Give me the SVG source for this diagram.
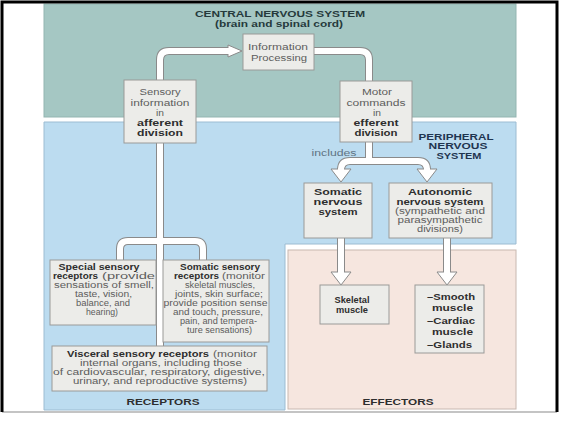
<svg xmlns="http://www.w3.org/2000/svg" width="564" height="422" viewBox="0 0 564 422">
<style>
text{font-family:"Liberation Sans",Arial,sans-serif;}
.n{font-size:8.5px;fill:#5c5c5c;text-anchor:middle;}
.b{font-size:8.5px;fill:#2e2e2e;font-weight:bold;text-anchor:middle;}
.rs{font-size:8.5px;fill:#5c5c5c;text-anchor:middle;}
.rb{font-size:8.5px;fill:#2e2e2e;font-weight:bold;text-anchor:middle;}
.st{text-anchor:start;}
.t{font-size:9px;font-weight:bold;fill:#263a3c;text-anchor:middle;}
.p{font-size:9px;font-weight:bold;fill:#1f3550;text-anchor:middle;}
.box{fill:#ecece9;stroke:#9a9a98;stroke-width:1;}
.po{fill:none;stroke:#8a8a8a;stroke-width:8;}
.pi{fill:none;stroke:#ffffff;stroke-width:6;}
.ah{fill:#ffffff;stroke:#8a8a8a;stroke-width:1;stroke-linejoin:miter;}
</style>
<rect x="0" y="0" width="564" height="422" fill="#ffffff"/>
<g id="panels">
<rect x="44" y="4" width="472" height="113" fill="#a5c7c3" stroke="#93b5b1" stroke-width="1"/>
<path d="M44,122 H516 V244 H285 V410 H44 Z" fill="#bcdcf0" stroke="#9cbcd2" stroke-width="1"/>
<rect x="288" y="250" width="228" height="159" fill="#f6e6df" stroke="#c8b8b0" stroke-width="1"/>
</g>
<g id="frame">
<line x1="2" y1="412" x2="557" y2="412" stroke="#b0b0b0" stroke-width="1.5"/>
<path d="M2,412 V2 H557 V412" fill="none" stroke="#000" stroke-width="3"/>
</g>
<g id="titles">
<text class="t" x="280" y="17" textLength="170" lengthAdjust="spacingAndGlyphs">CENTRAL NERVOUS SYSTEM</text>
<text class="t" x="279" y="27" textLength="128" lengthAdjust="spacingAndGlyphs">(brain and spinal cord)</text>
<text class="p" x="456" y="139.5" textLength="75" lengthAdjust="spacingAndGlyphs">PERIPHERAL</text>
<text class="p" x="458" y="149" textLength="59" lengthAdjust="spacingAndGlyphs">NERVOUS</text>
<text class="p" x="459" y="158.5" textLength="45" lengthAdjust="spacingAndGlyphs">SYSTEM</text>
<text class="b" x="398" y="405" textLength="71" lengthAdjust="spacingAndGlyphs">EFFECTORS</text>
<text class="b" x="163" y="405" textLength="73" lengthAdjust="spacingAndGlyphs">RECEPTORS</text>
</g>
<g id="connectors">
<path class="po" d="M160,80 V60 Q160,51 169,51 H229"/>
<path class="po" d="M314,51 H360 Q369,51 369,60 V81"/>
<path class="po" d="M369,142 V161"/>
<path class="po" d="M341,171 V170 Q341,161 350,161 H418 Q427,161 427,170 V171"/>
<path class="po" d="M341,238 V274"/>
<path class="po" d="M447,238 V274"/>
<path class="po" d="M160,143 V346"/>
<path class="po" d="M120,260 V249 Q120,241 128,241 H195 Q203,241 203,249 V260"/>
<path class="pi" d="M160,80 V60 Q160,51 169,51 H229"/>
<path class="pi" d="M314,51 H360 Q369,51 369,60 V81"/>
<path class="pi" d="M369,142 V161"/>
<path class="pi" d="M341,171 V170 Q341,161 350,161 H418 Q427,161 427,170 V171"/>
<path class="pi" d="M341,238 V274"/>
<path class="pi" d="M447,238 V274"/>
<path class="pi" d="M160,143 V346"/>
<path class="pi" d="M120,260 V249 Q120,241 128,241 H195 Q203,241 203,249 V260"/>
<polygon class="ah" points="228,45 242,51 228,57"/>
<rect x="227" y="48" width="2" height="6" fill="#fff"/>
<polygon class="ah" points="331,169 351,169 341,182"/>
<rect x="338" y="168" width="6" height="2" fill="#fff"/>
<polygon class="ah" points="417,169 437,169 427,182"/>
<rect x="424" y="168" width="6" height="2" fill="#fff"/>
<polygon class="ah" points="331,272 351,272 341,285"/>
<rect x="338" y="271" width="6" height="2" fill="#fff"/>
<polygon class="ah" points="437,272 457,272 447,285"/>
<rect x="444" y="271" width="6" height="2" fill="#fff"/>
<text class="n" x="334" y="156" textLength="45" lengthAdjust="spacingAndGlyphs" style="fill:#5f7383">includes</text>
</g>
<g id="info">
<rect class="box" x="243" y="34" width="71" height="36"/>
<text class="n" x="278" y="50" textLength="60" lengthAdjust="spacingAndGlyphs">Information</text>
<text class="n" x="279" y="61" textLength="56" lengthAdjust="spacingAndGlyphs">Processing</text>
</g>
<g id="sensory">
<rect class="box" x="124" y="80" width="72" height="63"/>
<text class="n" x="160" y="95" textLength="41" lengthAdjust="spacingAndGlyphs">Sensory</text>
<text class="n" x="160" y="105.5" textLength="59" lengthAdjust="spacingAndGlyphs">information</text>
<text class="n" x="160" y="116" textLength="8" lengthAdjust="spacingAndGlyphs">in</text>
<text class="b" x="160" y="125.5" textLength="46" lengthAdjust="spacingAndGlyphs">afferent</text>
<text class="b" x="160" y="135.5" textLength="46" lengthAdjust="spacingAndGlyphs">division</text>
</g>
<g id="motor">
<rect class="box" x="340" y="81" width="72" height="61"/>
<text class="n" x="377" y="95" textLength="30" lengthAdjust="spacingAndGlyphs">Motor</text>
<text class="n" x="376" y="105.5" textLength="59" lengthAdjust="spacingAndGlyphs">commands</text>
<text class="n" x="377" y="116" textLength="8" lengthAdjust="spacingAndGlyphs">in</text>
<text class="b" x="376" y="125.5" textLength="45" lengthAdjust="spacingAndGlyphs">efferent</text>
<text class="b" x="376" y="135.5" textLength="43" lengthAdjust="spacingAndGlyphs">division</text>
</g>
<g id="somatic-ns">
<rect class="box" x="304" y="183" width="68" height="55"/>
<text class="b" x="338" y="195" textLength="48" lengthAdjust="spacingAndGlyphs">Somatic</text>
<text class="b" x="338" y="205" textLength="49" lengthAdjust="spacingAndGlyphs">nervous</text>
<text class="b" x="338" y="214.5" textLength="39" lengthAdjust="spacingAndGlyphs">system</text>
</g>
<g id="autonomic-ns">
<rect class="box" x="389" y="183" width="103" height="55"/>
<text class="b" x="440" y="195" textLength="64" lengthAdjust="spacingAndGlyphs">Autonomic</text>
<text class="b" x="440" y="205" textLength="87" lengthAdjust="spacingAndGlyphs">nervous system</text>
<text class="n" x="440" y="214" textLength="90" lengthAdjust="spacingAndGlyphs">(sympathetic and</text>
<text class="n" x="440" y="223" textLength="85" lengthAdjust="spacingAndGlyphs">parasympathetic</text>
<text class="n" x="440" y="232" textLength="46" lengthAdjust="spacingAndGlyphs">divisions)</text>
</g>
<g id="skeletal">
<rect class="box" x="320" y="285" width="69" height="39"/>
<text class="b" x="352" y="303" textLength="35" lengthAdjust="spacingAndGlyphs">Skeletal</text>
<text class="b" x="352" y="313" textLength="32" lengthAdjust="spacingAndGlyphs">muscle</text>
</g>
<g id="visceral-effectors">
<rect class="box" x="415" y="285" width="69" height="68"/>
<text class="b st" x="427" y="300" textLength="48" lengthAdjust="spacingAndGlyphs">–Smooth</text>
<text class="b st" x="432" y="310.5" textLength="41" lengthAdjust="spacingAndGlyphs">muscle</text>
<text class="b st" x="427" y="324" textLength="48" lengthAdjust="spacingAndGlyphs">–Cardiac</text>
<text class="b st" x="432" y="334.5" textLength="41" lengthAdjust="spacingAndGlyphs">muscle</text>
<text class="b st" x="427" y="347.5" textLength="45" lengthAdjust="spacingAndGlyphs">–Glands</text>
</g>
<g id="special-receptors">
<rect class="box" x="50" y="260" width="106" height="65"/>
<text class="rb" x="99" y="270" textLength="81" lengthAdjust="spacingAndGlyphs">Special sensory</text>
<text class="rb st" x="53" y="279" textLength="45" lengthAdjust="spacingAndGlyphs">receptors</text>
<text class="rs st" x="102" y="279" textLength="53" lengthAdjust="spacingAndGlyphs">(provide</text>
<text class="rs" x="104" y="288" textLength="100" lengthAdjust="spacingAndGlyphs">sensations of smell,</text>
<text class="rs" x="103.5" y="296.5" textLength="57" lengthAdjust="spacingAndGlyphs">taste, vision,</text>
<text class="rs" x="103" y="305.5" textLength="54" lengthAdjust="spacingAndGlyphs">balance, and</text>
<text class="rs" x="102" y="314.5" textLength="32" lengthAdjust="spacingAndGlyphs">hearing)</text>
</g>
<g id="somatic-receptors">
<rect class="box" x="163" y="260" width="106" height="82"/>
<text class="rb" x="220" y="269.5" textLength="80" lengthAdjust="spacingAndGlyphs">Somatic sensory</text>
<text class="rb st" x="174" y="278.5" textLength="45" lengthAdjust="spacingAndGlyphs">receptors</text>
<text class="rs st" x="222" y="278.5" textLength="43" lengthAdjust="spacingAndGlyphs">(monitor</text>
<text class="rs" x="220" y="287.5" textLength="70" lengthAdjust="spacingAndGlyphs">skeletal muscles,</text>
<text class="rs" x="219" y="296.5" textLength="88" lengthAdjust="spacingAndGlyphs">joints, skin surface;</text>
<text class="rs" x="215.5" y="305.5" textLength="104" lengthAdjust="spacingAndGlyphs">provide position sense</text>
<text class="rs" x="218" y="314.5" textLength="90" lengthAdjust="spacingAndGlyphs">and touch, pressure,</text>
<text class="rs" x="218.5" y="323.5" textLength="77" lengthAdjust="spacingAndGlyphs">pain, and tempera-</text>
<text class="rs" x="219.5" y="332.5" textLength="65" lengthAdjust="spacingAndGlyphs">ture sensations)</text>
</g>
<g id="visceral-receptors">
<rect class="box" x="52" y="346" width="215" height="45"/>
<text class="rb st" x="67" y="357" textLength="142" lengthAdjust="spacingAndGlyphs">Visceral sensory receptors</text>
<text class="rs st" x="213" y="357" textLength="44" lengthAdjust="spacingAndGlyphs">(monitor</text>
<text class="rs" x="161" y="366" textLength="162" lengthAdjust="spacingAndGlyphs">internal organs, including those</text>
<text class="rs" x="159" y="375" textLength="212" lengthAdjust="spacingAndGlyphs">of cardiovascular, respiratory, digestive,</text>
<text class="rs" x="160" y="384" textLength="174" lengthAdjust="spacingAndGlyphs">urinary, and reproductive systems)</text>
</g>
</svg>
